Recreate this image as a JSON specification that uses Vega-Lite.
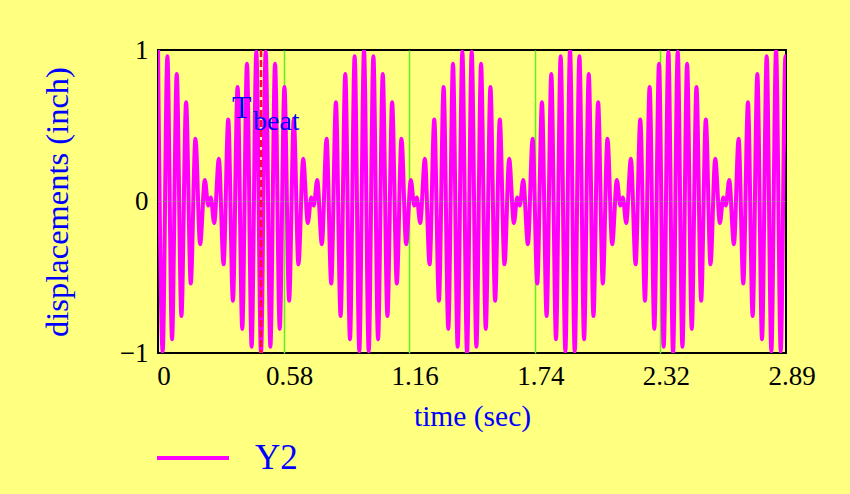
{
  "$schema": "https://vega.github.io/schema/vega-lite/v6.json",
  "autosize": {"type": "none"},
  "width": 628,
  "height": 303,
  "padding": {"left": 158, "top": 50, "right": 64, "bottom": 141},
  "background": "#ffff80",
  "config": {
    "view": {"stroke": "#000000", "strokeWidth": 2},
    "font": "Liberation Serif",
    "axis": {
      "domain": false,
      "ticks": false,
      "labelFont": "Liberation Serif",
      "labelFontSize": 27,
      "labelColor": "#000000",
      "titleFont": "Liberation Serif",
      "titleColor": "#0000ff",
      "titleFontWeight": "normal"
    }
  },
  "layer": [
    {
      "data": {
        "values": [
          {"t":0,"y":1},{"t":0.0216,"y":-0.99},{"t":0.0432,"y":0.959},{"t":0.0647,"y":-0.91},{"t":0.0863,"y":0.841},{"t":0.1079,"y":-0.756},{"t":0.1295,"y":0.655},{"t":0.151,"y":-0.541},{"t":0.1726,"y":0.415},{"t":0.1942,"y":-0.282},{"t":0.2158,"y":0.142},{"t":0.2314,"y":-0.026},{"t":0.2433,"y":0.026},{"t":0.2589,"y":-0.142},{"t":0.2805,"y":0.282},{"t":0.3021,"y":-0.415},{"t":0.3237,"y":0.541},{"t":0.3452,"y":-0.655},{"t":0.3668,"y":0.756},{"t":0.3884,"y":-0.841},{"t":0.41,"y":0.91},{"t":0.4315,"y":-0.959},{"t":0.4531,"y":0.99},
          {"t":0.4747,"y":-1},{"t":0.4963,"y":0.99},{"t":0.5179,"y":-0.959},{"t":0.5394,"y":0.91},{"t":0.561,"y":-0.841},{"t":0.5826,"y":0.756},{"t":0.6042,"y":-0.655},{"t":0.6257,"y":0.541},{"t":0.6473,"y":-0.415},{"t":0.6689,"y":0.282},{"t":0.6905,"y":-0.142},{"t":0.7061,"y":0.026},{"t":0.718,"y":-0.026},{"t":0.7336,"y":0.142},{"t":0.7552,"y":-0.282},{"t":0.7768,"y":0.415},{"t":0.7984,"y":-0.541},{"t":0.8199,"y":0.655},{"t":0.8415,"y":-0.756},{"t":0.8631,"y":0.841},{"t":0.8847,"y":-0.91},{"t":0.9062,"y":0.959},{"t":0.9278,"y":-0.99},
          {"t":0.9494,"y":1},{"t":0.971,"y":-0.99},{"t":0.9926,"y":0.959},{"t":1.0141,"y":-0.91},{"t":1.0357,"y":0.841},{"t":1.0573,"y":-0.756},{"t":1.0789,"y":0.655},{"t":1.1004,"y":-0.541},{"t":1.122,"y":0.415},{"t":1.1436,"y":-0.282},{"t":1.1652,"y":0.142},{"t":1.1808,"y":-0.026},{"t":1.1927,"y":0.026},{"t":1.2083,"y":-0.142},{"t":1.2299,"y":0.282},{"t":1.2515,"y":-0.415},{"t":1.2731,"y":0.541},{"t":1.2946,"y":-0.655},{"t":1.3162,"y":0.756},{"t":1.3378,"y":-0.841},{"t":1.3594,"y":0.91},{"t":1.3809,"y":-0.959},{"t":1.4025,"y":0.99},
          {"t":1.4241,"y":-1},{"t":1.4457,"y":0.99},{"t":1.4673,"y":-0.959},{"t":1.4888,"y":0.91},{"t":1.5104,"y":-0.841},{"t":1.532,"y":0.756},{"t":1.5536,"y":-0.655},{"t":1.5751,"y":0.541},{"t":1.5967,"y":-0.415},{"t":1.6183,"y":0.282},{"t":1.6399,"y":-0.142},{"t":1.6555,"y":0.026},{"t":1.6674,"y":-0.026},{"t":1.683,"y":0.142},{"t":1.7046,"y":-0.282},{"t":1.7262,"y":0.415},{"t":1.7478,"y":-0.541},{"t":1.7693,"y":0.655},{"t":1.7909,"y":-0.756},{"t":1.8125,"y":0.841},{"t":1.8341,"y":-0.91},{"t":1.8556,"y":0.959},{"t":1.8772,"y":-0.99},
          {"t":1.8988,"y":1},{"t":1.9204,"y":-0.99},{"t":1.942,"y":0.959},{"t":1.9635,"y":-0.91},{"t":1.9851,"y":0.841},{"t":2.0067,"y":-0.756},{"t":2.0283,"y":0.655},{"t":2.0498,"y":-0.541},{"t":2.0714,"y":0.415},{"t":2.093,"y":-0.282},{"t":2.1146,"y":0.142},{"t":2.1302,"y":-0.026},{"t":2.1421,"y":0.026},{"t":2.1577,"y":-0.142},{"t":2.1793,"y":0.282},{"t":2.2009,"y":-0.415},{"t":2.2225,"y":0.541},{"t":2.244,"y":-0.655},{"t":2.2656,"y":0.756},{"t":2.2872,"y":-0.841},{"t":2.3088,"y":0.91},{"t":2.3303,"y":-0.959},{"t":2.3519,"y":0.99},
          {"t":2.3735,"y":-1},{"t":2.3951,"y":0.99},{"t":2.4167,"y":-0.959},{"t":2.4382,"y":0.91},{"t":2.4598,"y":-0.841},{"t":2.4814,"y":0.756},{"t":2.503,"y":-0.655},{"t":2.5245,"y":0.541},{"t":2.5461,"y":-0.415},{"t":2.5677,"y":0.282},{"t":2.5893,"y":-0.142},{"t":2.6049,"y":0.026},{"t":2.6168,"y":-0.026},{"t":2.6324,"y":0.142},{"t":2.654,"y":-0.282},{"t":2.6756,"y":0.415},{"t":2.6972,"y":-0.541},{"t":2.7187,"y":0.655},{"t":2.7403,"y":-0.756},{"t":2.7619,"y":0.841},{"t":2.7835,"y":-0.91},{"t":2.805,"y":0.959},{"t":2.8266,"y":-0.99},
          {"t":2.8482,"y":1},{"t":2.8698,"y":-0.99},{"t":2.8914,"y":0.959},{"t":2.9129,"y":-0.91}
        ]
      },
      "mark": {"type": "line", "strokeWidth": 4, "interpolate": "monotone", "clip": true, "strokeCap": "round"},
      "encoding": {
        "x": {
          "field": "t", "type": "quantitative",
          "scale": {"domain": [0, 2.894], "nice": false, "zero": false},
          "axis": {
            "values": [0, 0.5788, 1.1576, 1.7364, 2.3152, 2.894],
            "labelExpr": "datum.value == 0 ? '0' : format(datum.value, '.2f')",
            "labelOffset": 5.5,
            "labelPadding": 10,
            "labelFlush": false,
            "labelOverlap": false,
            "grid": true,
            "gridColor": {"condition": {"test": "datum.value < 0.1 || datum.value > 2.8", "value": "transparent"}, "value": "#66ee22"},
            "gridWidth": 1.5,
            "title": "time (sec)",
            "titleFontSize": 29.5,
            "titlePadding": 13
          }
        },
        "y": {
          "field": "y", "type": "quantitative",
          "scale": {"domain": [-1, 1], "nice": false},
          "axis": {
            "values": [-1, 0, 1],
            "labelExpr": "datum.value == 0 ? '0' : (datum.value > 0 ? '1' : '\u22121')",
            "labelOverlap": false,
            "grid": false,
            "labelPadding": 10,
            "title": "displacements (inch)",
            "titleFontSize": 32.5,
            "titlePadding": 45
          }
        },
        "color": {
          "datum": "Y2",
          "scale": {"range": ["#ff00ff"]},
          "legend": {
            "orient": "bottom",
            "title": null,
            "symbolType": "stroke",
            "symbolSize": 5184,
            "symbolStrokeWidth": 4,
            "symbolOffset": -3,
            "labelFont": "Liberation Serif",
            "labelFontSize": 35,
            "labelColor": "#0000ff",
            "labelOffset": 24,
            "offset": -11,
            "padding": 0
          }
        }
      }
    },
    {
      "data": {"values": [{"level": 0}]},
      "mark": {"type": "rule", "color": "#909090", "opacity": 0.45, "strokeWidth": 1},
      "encoding": {"y": {"field": "level", "type": "quantitative"}}
    },
    {
      "data": {"values": [{"tbeat": 0.4747}]},
      "layer": [
        {
          "mark": {"type": "rule", "color": "#ff1030", "strokeWidth": 2.5, "strokeDash": [7, 3]},
          "encoding": {"x": {"field": "tbeat", "type": "quantitative"}}
        },
        {
          "mark": {"type": "text", "text": "T", "font": "Liberation Serif", "fontSize": 32, "fontWeight": "normal", "color": "#0000ff", "align": "left", "baseline": "alphabetic", "dx": -29},
          "encoding": {"x": {"field": "tbeat", "type": "quantitative"}, "y": {"datum": 0.549, "type": "quantitative"}}
        },
        {
          "mark": {"type": "text", "text": "beat", "font": "Liberation Serif", "fontSize": 28, "fontWeight": "normal", "color": "#0000ff", "align": "left", "baseline": "alphabetic", "dx": -8},
          "encoding": {"x": {"field": "tbeat", "type": "quantitative"}, "y": {"datum": 0.472, "type": "quantitative"}}
        }
      ]
    }
  ]
}
